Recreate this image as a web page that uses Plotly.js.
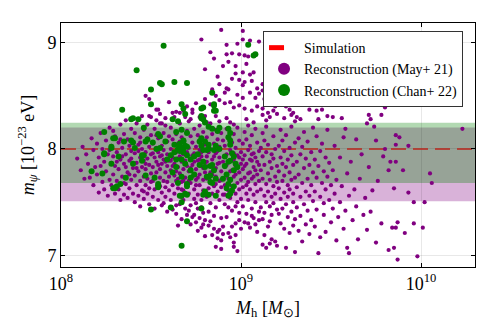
<!DOCTYPE html>
<html>
<head>
<meta charset="utf-8">
<script src="https://cdn.plot.ly/plotly-3.0.1.min.js"></script>
<style>body{margin:0;} #chart{width:498px;height:332px;}</style>
</head>
<body>
<div id="chart"></div>
<script>
// simulation value and 1-sigma bands, m_psi in 1e-23 eV
const simValue = 8.0;
const mayBand = [7.508, 8.203];
const chanBand = [7.68, 8.247];
const xLogRange = [8, 10.3];
const yRange = [6.89, 9.185];

// points are [log10(M_h / M_sun), m_psi]
const mayUpper = [
[8.89,9.12],[9.01,9.11],[8.78,9.03],[8.92,8.98],[8.98,8.99],[9.01,9.03],[9.05,9.02],[9.10,9.01],
[8.83,8.91],[8.92,8.89],[8.95,8.90],[8.99,8.89],[9.02,8.88],[9.04,8.87],
[8.85,8.85],[8.90,8.78],[8.97,8.78],[8.80,8.75],[8.97,8.71],[9.01,8.72],[9.05,8.70],[9.07,8.72],
[8.99,8.65],[9.02,8.63],[9.06,8.64],[8.88,8.61],[8.92,8.57],[8.93,8.56],[8.91,8.53],
[9.01,8.60],[9.09,8.57],[9.12,8.61],[9.14,8.60],[9.10,8.52],
[8.47,8.50],[8.49,8.47],[8.60,8.44],[8.53,8.37],[8.54,8.37],[8.75,8.43],[8.70,8.40],[8.73,8.37],
[8.64,8.35],[8.62,8.34],[8.66,8.34],[8.49,8.31],[8.50,8.30],[8.43,8.28],[8.58,8.29],[8.55,8.24],
[8.69,8.30],[8.72,8.28],[8.77,8.30],[8.80,8.31],[8.81,8.25],[8.86,8.31],[8.88,8.26],
[8.80,8.47],[8.83,8.42],[8.88,8.46],[8.91,8.43],[8.94,8.44],[8.96,8.39],[8.99,8.41],[9.02,8.38],[9.06,8.36],[9.09,8.40],[9.12,8.38],
[8.98,8.51],[9.01,8.48],[9.05,8.53],[9.08,8.48],[9.15,8.50],
[9.12,8.55],[9.18,8.53],[9.22,8.57],[9.25,8.50],[9.28,8.45],
[9.12,8.32],[9.16,8.30],[9.20,8.33],[9.24,8.29],[9.14,8.27],
[9.24,8.56],[9.35,8.58],[9.46,8.58],[9.21,8.48],[9.26,8.48],[9.29,8.52],[9.33,8.49],[9.37,8.46],[9.37,8.42],
[9.43,8.48],[9.50,8.45],[9.49,8.42],[9.38,8.37],[9.42,8.36],[9.45,8.37],
[9.29,8.34],[9.31,8.30],[9.33,8.28],[9.30,8.26],[9.28,8.32],
[9.22,8.44],[9.25,8.40],[9.27,8.37],
[9.13,8.47],[9.16,8.42],[9.18,8.36],[9.15,8.34],[9.19,8.40],
[9.48,8.31],[9.51,8.30],[9.43,8.28],[9.56,8.29],
[9.70,8.24],[9.72,8.28],[9.71,8.32],[9.78,8.32],[9.80,8.39],
[8.93,8.82],[9.03,8.80],[8.87,8.68],[8.95,8.66],[8.84,8.56],[8.86,8.50]
];

const mayLeft = [
[8.09,7.91],[8.11,7.80],[8.12,8.02],[8.13,7.72],[8.14,7.95],[8.15,7.86],[8.16,7.73],[8.17,8.10],[8.18,7.99],[8.18,7.66],[8.19,7.83],[8.20,8.05],
[8.20,7.76],[8.21,7.92],[8.21,7.59],[8.22,8.15],[8.22,7.84],[8.23,7.69],[8.23,8.00],[8.24,7.88],[8.24,7.62],[8.25,8.08],[8.25,7.79],[8.26,7.95],[8.26,7.56],
[8.27,7.71],[8.27,8.20],[8.28,7.87],[8.28,8.03],[8.28,7.66],[8.29,7.93],[8.29,7.76],[8.30,8.12],[8.30,7.58],[8.30,7.84],[8.29,8.17],[8.27,7.99],
[8.31,7.70],[8.31,7.97],[8.32,8.06],[8.32,7.62],[8.32,7.81],[8.33,8.23],[8.33,7.90],[8.33,7.52],[8.34,7.74],[8.34,8.01],[8.35,7.57],[8.35,7.86],
[8.35,8.14],[8.36,7.67],[8.36,7.95],[8.36,8.27],[8.37,7.78],[8.37,8.09],[8.37,7.54],[8.38,7.89],[8.38,7.63],[8.38,8.03],[8.39,7.71],[8.39,7.98],
[8.39,8.19],[8.40,7.82],[8.40,7.58],[8.40,8.07],[8.34,7.93],[8.36,7.83],[8.38,7.76],[8.33,8.09],[8.31,7.88],[8.35,7.68],[8.39,7.91],
[8.41,7.50],[8.41,7.75],[8.41,7.96],[8.41,8.15],[8.42,7.66],[8.42,7.87],[8.42,8.24],[8.43,7.56],[8.43,7.79],[8.43,8.04],[8.44,7.92],[8.44,7.70],
[8.44,7.46],[8.44,8.11],[8.45,7.83],[8.45,7.61],[8.45,8.00],[8.45,8.31],[8.46,7.74],[8.46,7.89],[8.46,7.53],[8.46,8.18],[8.47,7.66],[8.47,7.97],
[8.47,8.07],[8.47,7.81],[8.48,7.58],[8.48,7.91],[8.48,8.23],[8.48,7.72],[8.49,8.02],[8.49,7.85],[8.49,7.48],[8.49,7.63],[8.50,7.95],[8.50,7.77],
[8.50,8.13],[8.50,7.69],[8.43,7.98],[8.45,7.93],[8.47,7.86],[8.42,7.82],[8.44,8.06],[8.48,8.10],[8.46,7.60]
];

const mayMid = [
[8.51,7.55],[8.51,7.83],[8.51,8.05],[8.51,7.70],[8.52,7.92],[8.52,8.19],[8.52,7.62],[8.52,7.44],[8.53,7.78],[8.53,8.01],[8.53,7.88],[8.53,8.27],
[8.54,7.67],[8.54,7.97],[8.54,7.52],[8.54,8.10],[8.55,7.81],[8.55,7.73],[8.55,7.93],[8.55,8.33],[8.56,7.59],[8.56,7.86],[8.56,8.03],[8.56,7.47],
[8.57,7.70],[8.57,7.99],[8.57,8.15],[8.57,7.90],[8.58,7.64],[8.58,7.78],[8.58,8.22],[8.58,7.55],[8.59,7.84],[8.59,8.07],[8.59,7.95],[8.59,7.41],
[8.60,7.74],[8.60,7.89],[8.60,8.12],[8.60,7.61],[8.52,7.74],[8.54,7.85],[8.56,7.94],[8.58,7.88],[8.53,8.13],[8.57,7.49],[8.55,7.65],[8.51,7.96],
[8.59,7.69],[8.56,8.24],
[8.61,7.52],[8.61,7.80],[8.61,8.00],[8.61,8.20],[8.62,7.66],[8.62,7.92],[8.62,7.43],[8.62,8.09],[8.63,7.75],[8.63,7.86],[8.63,8.30],[8.63,7.58],
[8.64,7.97],[8.64,7.70],[8.64,8.14],[8.64,7.39],[8.65,7.83],[8.65,7.63],[8.65,8.05],[8.65,7.91],[8.66,7.48],[8.66,7.77],[8.66,8.24],[8.66,7.99],
[8.67,7.69],[8.67,7.88],[8.67,8.11],[8.67,7.55],[8.68,7.81],[8.68,7.95],[8.68,8.36],[8.68,7.61],[8.69,7.73],[8.69,8.03],[8.69,7.44],[8.69,7.89],
[8.70,7.66],[8.70,8.17],[8.70,7.84],[8.70,7.97],[8.62,7.84],[8.64,7.79],[8.66,7.93],[8.68,7.70],[8.63,8.04],[8.65,7.72],[8.67,7.62],[8.69,7.96],
[8.61,7.89],[8.66,8.07],[8.68,7.52],[8.64,7.47],[8.65,7.28],[8.67,7.34],[8.70,7.38],
[8.71,7.58],[8.71,7.79],[8.71,8.01],[8.71,8.26],[8.72,7.68],[8.72,7.91],[8.72,7.47],[8.72,8.12],[8.73,7.74],[8.73,7.85],[8.73,7.36],[8.73,8.06],
[8.74,7.62],[8.74,7.96],[8.74,8.19],[8.74,7.53],[8.75,7.81],[8.75,7.71],[8.75,8.02],[8.75,7.31],[8.76,7.89],[8.76,7.57],[8.76,8.13],[8.76,7.44],
[8.77,7.76],[8.77,7.99],[8.77,7.66],[8.77,8.22],[8.78,7.84],[8.78,7.52],[8.78,8.08],[8.78,7.93],[8.79,7.71],[8.79,7.40],[8.79,8.16],[8.79,7.61],
[8.80,7.87],[8.80,7.78],[8.80,8.04],[8.80,7.33],[8.72,7.82],[8.74,7.88],[8.76,7.73],[8.78,7.97],[8.73,7.94],[8.75,7.66],[8.77,7.90],[8.79,7.82],
[8.71,7.70],[8.72,7.29],[8.74,7.38],[8.76,7.23],[8.77,7.35],[8.78,7.26],[8.79,7.29],[8.80,7.18],[8.71,7.42],[8.75,7.49],[8.78,7.45],[8.73,8.34],
[8.81,7.55],[8.81,7.93],[8.81,8.11],[8.81,7.72],[8.82,7.63],[8.82,7.84],[8.82,8.21],[8.82,7.41],[8.83,7.78],[8.83,8.00],[8.83,7.49],[8.83,7.32],
[8.84,7.69],[8.84,7.90],[8.84,8.14],[8.84,7.58],[8.85,7.81],[8.85,8.05],[8.85,7.37],[8.85,7.65],[8.86,7.96],[8.86,7.74],[8.86,8.18],[8.86,7.45],
[8.87,7.86],[8.87,7.60],[8.87,8.09],[8.87,7.22],[8.88,7.70],[8.88,7.92],[8.88,7.52],[8.88,8.02],[8.89,7.79],[8.89,7.64],[8.89,8.15],[8.89,7.14],
[8.90,7.88],[8.90,7.57],[8.90,8.08],[8.90,7.27],[8.82,7.97],[8.84,7.76],[8.86,7.82],[8.88,7.87],[8.83,7.68],[8.85,7.93],[8.87,7.98],[8.89,7.71],
[8.81,7.88],[8.86,7.67],[8.84,7.19],[8.86,7.08],[8.87,7.16],[8.88,7.24],[8.89,7.06],[8.90,7.20],[8.82,7.28],[8.85,7.25],[8.89,7.35],[8.83,8.24],
[8.91,7.66],[8.91,7.83],[8.91,8.03],[8.91,7.48],[8.92,7.75],[8.92,7.95],[8.92,8.19],[8.92,7.36],[8.93,7.61],[8.93,7.88],[8.93,8.10],[8.93,7.21],
[8.94,7.70],[8.94,7.99],[8.94,7.54],[8.94,8.25],[8.95,7.80],[8.95,7.65],[8.95,8.06],[8.95,7.42],[8.96,7.90],[8.96,7.74],[8.96,8.14],[8.96,7.12],
[8.97,7.58],[8.97,7.84],[8.97,8.01],[8.97,7.30],[8.98,7.68],[8.98,7.94],[8.98,8.20],[8.98,7.50],[8.99,7.78],[8.99,7.62],[8.99,8.08],[8.99,7.40],
[9.00,7.86],[9.00,7.71],[9.00,7.97],[9.00,7.25],[8.92,7.85],[8.94,7.79],[8.96,7.96],[8.98,7.82],[8.93,7.72],[8.95,7.89],[8.97,7.76],[8.99,7.92],
[8.91,7.57],[8.94,7.17],[8.96,7.08],[8.95,7.27],[8.97,7.19],[8.98,7.04],[8.93,7.45],[8.97,7.46],[8.99,7.33],[9.00,7.53],[8.92,8.29],[8.96,8.23]
];

const mayRight = [
[9.01,7.64],[9.01,7.81],[9.01,8.05],[9.01,7.46],[9.02,7.73],[9.02,7.94],[9.02,8.16],[9.02,7.31],[9.03,7.58],[9.03,7.86],[9.03,8.09],[9.03,7.39],
[9.04,7.69],[9.04,7.99],[9.04,7.52],[9.04,8.22],[9.05,7.78],[9.05,7.62],[9.05,8.03],[9.05,7.26],[9.06,7.89],[9.06,7.72],[9.06,8.13],[9.06,7.44],
[9.07,7.57],[9.07,7.83],[9.07,7.96],[9.07,7.35],[9.08,7.67],[9.08,7.92],[9.08,8.19],[9.08,7.50],[9.09,7.76],[9.09,7.60],[9.09,8.06],[9.09,7.22],
[9.10,7.85],[9.10,7.70],[9.10,7.98],[9.10,7.41],[9.02,7.84],[9.04,7.77],[9.06,7.95],[9.08,7.80],[9.03,7.66],[9.05,7.90],[9.07,7.74],[9.09,7.88],
[9.01,7.90],[9.04,7.30],[9.06,7.37],[9.08,7.29],[9.10,7.33],[9.03,8.28],[9.07,8.25],
[9.11,7.62],[9.11,7.80],[9.11,8.01],[9.11,7.45],[9.12,7.72],[9.12,7.93],[9.12,8.15],[9.12,7.34],[9.13,7.56],[9.13,7.85],[9.13,8.08],[9.13,7.40],
[9.14,7.67],[9.14,7.97],[9.14,7.50],[9.14,8.21],[9.15,7.77],[9.15,7.60],[9.15,8.04],[9.15,7.27],[9.16,7.88],[9.16,7.71],[9.16,7.32],[9.16,7.46],
[9.17,7.55],[9.17,7.82],[9.17,7.95],[9.17,7.38],[9.18,7.65],[9.18,7.91],[9.18,8.12],[9.18,7.49],[9.19,7.74],[9.19,7.58],[9.19,8.00],[9.19,7.13],
[9.20,7.84],[9.20,7.69],[9.20,7.43],[9.20,7.09],[9.12,7.10],[9.14,7.07],[9.16,7.11],[9.13,7.19],[9.17,7.15],
[9.21,7.63],[9.21,7.79],[9.21,8.03],[9.21,7.39],[9.22,7.53],[9.22,7.92],[9.22,8.18],[9.22,7.30],[9.23,7.70],[9.23,7.86],[9.23,7.44],[9.23,8.08],
[9.24,7.59],[9.24,7.98],[9.24,7.25],[9.24,7.75],[9.25,7.83],[9.25,7.48],[9.25,8.13],[9.25,7.07],[9.26,7.66],[9.26,7.90],[9.26,7.36],[9.26,7.55],
[9.27,7.78],[9.27,8.01],[9.27,7.21],[9.27,7.62],[9.28,7.71],[9.28,7.94],[9.28,7.41],[9.28,8.21],[9.29,7.58],[9.29,7.85],[9.29,7.28],[9.29,7.50],
[9.30,7.73],[9.30,8.06],[9.30,7.34],[9.30,7.03],
[9.31,7.64],[9.31,7.88],[9.31,7.45],[9.32,7.76],[9.32,8.10],[9.32,7.23],[9.33,7.55],[9.33,7.95],[9.33,7.37],[9.34,7.68],[9.34,8.02],[9.34,7.13],
[9.35,7.82],[9.35,7.48],[9.35,8.16],[9.36,7.60],[9.36,7.91],[9.36,7.29],[9.37,7.72],[9.37,7.42],[9.37,8.07],[9.38,7.85],[9.38,7.56],[9.38,7.20],
[9.39,7.66],[9.39,7.97],[9.39,7.33],[9.40,7.78],[9.40,7.51],[9.40,8.20],
[9.41,7.60],[9.41,7.90],[9.41,7.27],[9.42,7.73],[9.42,8.12],[9.42,7.43],[9.43,7.02],[9.43,7.84],[9.44,7.55],[9.44,7.98],[9.44,7.17],[9.45,7.68],
[9.45,8.05],[9.46,7.38],[9.46,7.79],[9.46,7.49],[9.47,7.92],[9.47,7.62],[9.47,7.22],[9.48,7.74],[9.48,8.18],[9.49,7.52],[9.49,7.87],[9.50,7.31],
[9.50,7.66]
];

const mayTail = [
[9.51,7.80],[9.51,7.44],[9.52,8.03],[9.52,7.58],[9.53,7.14],[9.53,7.71],[9.54,7.36],[9.55,7.92],[9.55,7.50],[9.56,7.65],[9.57,7.25],[9.57,8.11],
[9.58,7.42],[9.58,8.19],[9.59,7.77],[9.59,7.07],[9.60,7.56],[9.60,7.02],
[9.61,7.88],[9.62,7.33],[9.63,7.62],[9.64,8.09],[9.64,7.46],[9.65,7.15],[9.66,7.72],[9.67,7.95],[9.68,7.38],[9.69,7.54],[9.70,7.24],
[9.71,7.83],[9.72,7.41],[9.73,7.61],[9.74,8.21],[9.75,8.08],[9.75,7.12],[9.76,7.70],[9.78,7.30],[9.79,7.93],[9.80,8.00],
[9.82,7.80],[9.83,7.88],[9.84,7.26],[9.85,7.63],[9.85,7.07],[9.86,7.88],[9.86,7.26],[9.86,8.13],[9.86,8.04],[9.87,7.31],[9.88,8.11],[9.82,7.05],
[9.87,6.96],[9.90,7.80],[9.91,7.21],[9.93,7.59],[9.93,8.03],[9.96,7.50],[9.96,7.30],[9.98,6.99],[10.01,7.26],[10.02,7.50],[10.05,7.77],
[10.06,7.68],[10.23,8.19]
];

const chanOutliers = [
[8.57,8.97],[8.42,8.74],[8.55,8.62],[8.56,8.61],[8.63,8.63],[8.70,8.62],[8.50,8.56],[8.50,8.42],[8.34,8.37],[8.39,8.28],
[8.67,8.42],[8.84,8.53],[8.85,8.41],[8.79,8.39],[8.85,8.36],[9.04,8.98],[9.07,8.88],[9.08,8.89],
[8.61,7.45],[8.78,7.44],[8.70,7.32],[8.67,7.09],[8.50,7.43],[8.66,7.56],[8.70,7.57],[8.82,7.57],[8.93,7.56]
];

const chanCore = [
[8.24,8.16],[8.46,8.20],[8.62,8.28],[8.65,8.26],[8.78,8.29],[8.40,8.29],[8.43,8.28],[8.30,8.10],[8.35,8.07],[8.40,8.06],
[8.54,8.14],[8.58,8.07],[8.64,8.16],[8.67,8.18],[8.70,8.15],[8.28,8.01],[8.32,7.93],[8.24,7.96],[8.28,7.86],[8.17,7.79],
[8.36,7.73],[8.23,7.77],[8.29,7.63],[8.31,7.65],[8.33,7.67],[8.46,7.94],[8.45,7.89],[8.40,7.86],[8.52,7.73],[8.47,7.75],
[8.54,7.67],[8.54,7.64],[8.59,7.90],[8.61,7.94],[8.63,7.97],[8.65,8.00],[8.66,8.02],[8.68,8.01],[8.55,8.01],[8.67,7.56],
[8.65,7.68],[8.62,7.78],[8.64,7.83],[8.69,7.86],
[8.85,8.42],[8.86,8.36],[8.78,8.31],[8.79,8.28],[8.80,8.25],[8.78,8.38],[8.68,8.38],[8.69,8.33],[8.82,8.21],[8.84,8.19],
[8.87,8.17],[8.88,8.20],[8.93,8.19],[8.94,8.15],[8.93,8.11],[8.94,8.08],[8.78,8.10],[8.80,8.07],[8.81,7.99],[8.79,7.99],
[8.82,8.00],[8.85,7.99],[8.86,8.03],[8.88,8.00],[8.68,8.08],[8.69,8.03],[8.68,7.97],[8.70,7.94],[8.72,7.90],[8.67,7.90],
[8.95,7.96],[8.96,7.93],[8.94,7.89],[8.97,7.86],[8.98,7.83],[8.96,7.80],[8.77,7.85],[8.79,7.88],[8.84,7.85],[8.85,7.80],
[8.83,7.75],[8.82,7.74],[8.86,7.72],[8.84,7.68],[8.72,7.80],[8.74,7.76],[8.72,7.73],[8.70,7.67],[8.93,7.67],[8.92,7.63],
[8.94,7.58],[8.95,7.61],[8.96,7.65],[8.80,7.60],[8.79,7.57],[8.86,7.56],[8.69,7.58],[8.67,7.50],
[8.29,8.10],[8.28,8.02],[8.24,7.95],[8.30,7.63],[8.39,8.08],[8.41,8.01],[8.47,8.07],[8.48,8.09],[8.51,8.06],[8.53,8.00],
[8.55,8.12],[8.45,7.94],[8.54,7.66],[8.64,7.90],[8.66,7.98],[8.70,8.02],[8.63,8.04],[8.66,8.05],[8.68,8.07],[8.67,7.74],
[8.70,7.65],[8.74,7.93],[8.76,7.95],[8.78,8.03],[8.77,8.07],[8.82,8.04],[8.80,7.83],[8.83,7.84],[8.81,7.74],[8.83,7.69],
[8.91,7.93],[8.93,7.88],[8.94,8.04],[8.91,7.84],[8.92,7.76],[8.94,7.71],[8.90,7.72]
];

const may21 = mayUpper.concat(mayLeft, mayMid, mayRight, mayTail);
const chan22 = chanOutliers.concat(chanCore);

const serif = 'Liberation Serif';

// the simulation line sits under the two translucent bands, so it reads darker inside the plot
const simLine = {
    x: [Math.pow(10, xLogRange[0]), Math.pow(10, xLogRange[1])],
    y: [simValue, simValue],
    mode: 'lines',
    showlegend: false,
    line: { color: 'rgb(185,38,28)', dash: '15px,7px', width: 1.6 },
    hoverinfo: 'skip'
};

// legend entry only
const simLegend = {
    x: [null], y: [null],
    mode: 'lines',
    name: 'Simulation',
    line: { color: 'red', dash: 'dash', width: 2 },
    hoverinfo: 'skip'
};

const mayTrace = {
    x: may21.map(p => Math.pow(10, p[0])),
    y: may21.map(p => p[1]),
    mode: 'markers',
    type: 'scatter',
    name: 'Reconstruction (May+ 21)',
    marker: { color: 'purple', size: 4.2 }
};

const chanTrace = {
    x: chan22.map(p => Math.pow(10, p[0])),
    y: chan22.map(p => p[1]),
    mode: 'markers',
    type: 'scatter',
    name: 'Reconstruction (Chan+ 22)',
    marker: { color: 'green', size: 6 }
};

const axisStyle = {
    showline: true, linecolor: 'black', linewidth: 1, mirror: 'ticks',
    ticks: 'inside', ticklen: 4, tickcolor: 'black',
    showgrid: true, gridcolor: 'rgba(0,0,0,0.09)', gridwidth: 1, zeroline: false,
    tickfont: { family: serif, size: 18, color: 'black' }
};

const layout = {
    width: 498, height: 332,
    margin: { l: 61, r: 23, t: 23, b: 65 },
    paper_bgcolor: 'white', plot_bgcolor: 'white',
    showlegend: true,
    font: { family: serif, color: 'black' },
    xaxis: Object.assign({}, axisStyle, {
        type: 'log',
        range: xLogRange,
        tickvals: [1e8, 1e9, 1e10],
        ticktext: ['10<sup>8</sup>', '10<sup>9</sup>', '10<sup>10</sup>'],
        title: { text: '<i>M</i><sub>h</sub> [<i>M</i><sub>⊙</sub>]', font: { family: serif, size: 18, color: 'black' }, standoff: 8 }
    }),
    yaxis: Object.assign({}, axisStyle, {
        range: yRange,
        tickvals: [7, 8, 9],
        title: { text: '<i>m</i><sub><i>ψ</i></sub> [10<sup>−23</sup> eV]', font: { family: serif, size: 18, color: 'black' }, standoff: 8 }
    }),
    legend: {
        x: 0.488, y: 0.967, xanchor: 'left', yanchor: 'top',
        bgcolor: 'white', bordercolor: '#333', borderwidth: 1,
        font: { family: serif, size: 14, color: 'black' },
        itemsizing: 'constant', itemwidth: 30, tracegroupgap: 0
    },
    shapes: [
        { type: 'rect', xref: 'paper', yref: 'y', x0: 0, x1: 1, y0: mayBand[0], y1: mayBand[1],
          fillcolor: 'rgba(128,0,128,0.3)', line: { width: 0 }, layer: 'below' },
        { type: 'rect', xref: 'paper', yref: 'y', x0: 0, x1: 1, y0: chanBand[0], y1: chanBand[1],
          fillcolor: 'rgba(0,128,0,0.3)', line: { width: 0 }, layer: 'below' }
    ]
};

Plotly.newPlot('chart', [simLine, simLegend, mayTrace, chanTrace], layout, { displayModeBar: false, staticPlot: true });
</script>
</body>
</html>
